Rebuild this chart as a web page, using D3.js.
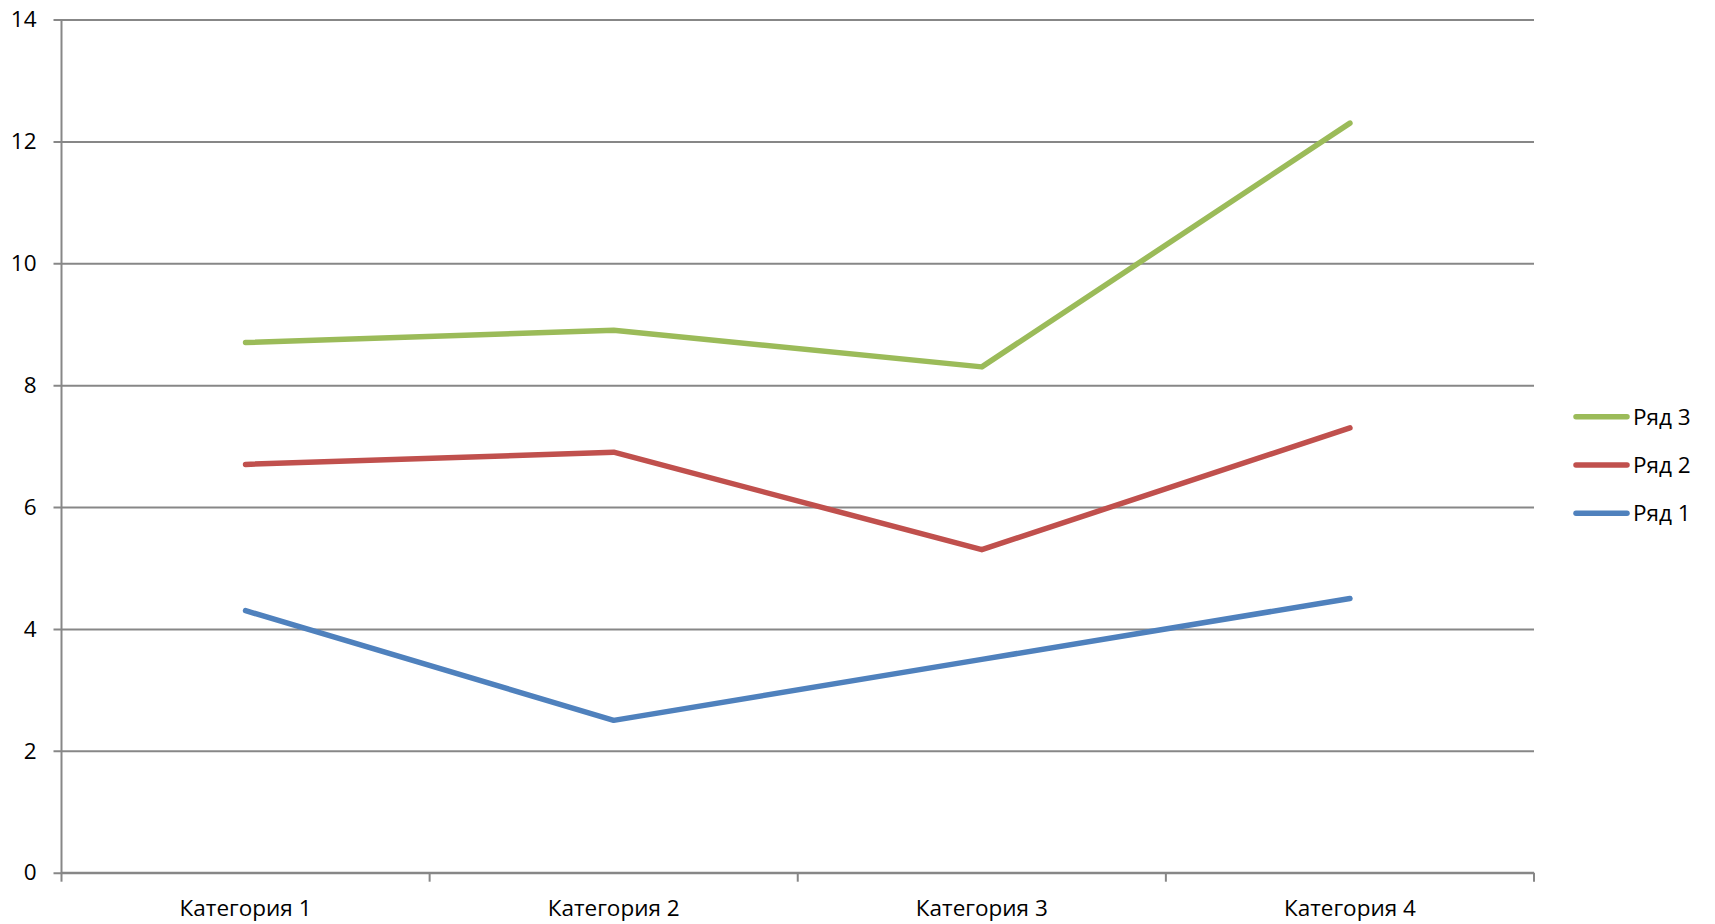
<!DOCTYPE html>
<html><head><meta charset="utf-8">
<script src="https://cdn.jsdelivr.net/npm/d3@7"></script>
<style>
html,body{margin:0;padding:0;background:#fff;}
svg{display:block;}
text{font-family:"Open Sans","Liberation Sans",sans-serif;fill:#000;}
</style></head>
<body>
<svg id="chart" width="1715" height="924"></svg>
<script>
const categories = ["Категория 1","Категория 2","Категория 3","Категория 4"];
const series1 = [4.3, 2.5, 3.5, 4.5];
const series2 = [6.7, 6.9, 5.3, 7.3];
const series3 = [8.7, 8.9, 8.3, 12.3];
const seriesNames = ["Ряд 1","Ряд 2","Ряд 3"];
const seriesColors = ["#4F81BD","#C0504D","#9BBB59"];
const yTicks = [0,2,4,6,8,10,12,14];

(function(){
const seriesData = [series1, series2, series3];
const svg = d3.select("#chart");
const pLeft = 61.5, pRight = 1534, pTop = 19.5, pBottom = 872.7;
const fs = 22.5;

const x = d3.scaleBand().domain(categories).range([pLeft, pRight]).padding(0);
const y = d3.scaleLinear().domain([0,14]).range([pBottom, pTop]);

// gridlines + y axis
const yAxis = d3.axisLeft(y).tickValues(yTicks).tickSize(-(pRight-pLeft)).tickSizeOuter(0).tickPadding(25);
const gy = svg.append("g").attr("transform",`translate(${pLeft},0)`).call(yAxis);
gy.select(".domain").remove();
gy.selectAll(".tick line").attr("stroke","#878787").attr("stroke-width",2).attr("x1",-8);
gy.selectAll(".tick text").attr("font-size",fs).attr("fill","#000");

// vertical axis line
svg.append("line").attr("x1",pLeft).attr("x2",pLeft).attr("y1",pTop).attr("y2",pBottom+1)
  .attr("stroke","#878787").attr("stroke-width",2);

// x axis
const xAxis = d3.axisBottom(x).tickSize(0).tickPadding(27);
const gx = svg.append("g").attr("transform",`translate(0,${pBottom})`).call(xAxis);
gx.select(".domain").attr("stroke","#878787").attr("stroke-width",2).attr("d",`M${pLeft},0H${pRight}`);
gx.selectAll(".tick text").attr("font-size",fs).attr("fill","#000");
const boundaries = categories.map(c => x(c)).concat([pRight]);
svg.append("g").selectAll("line").data(boundaries).join("line")
  .attr("x1",d=>d).attr("x2",d=>d).attr("y1",pBottom).attr("y2",pBottom+9)
  .attr("stroke","#878787").attr("stroke-width",2);

// lines
const line = d3.line().x((d,i)=>x(categories[i]) + x.bandwidth()/2).y(d=>y(d));
svg.append("g").selectAll("path").data(seriesData).join("path")
  .attr("d", d=>line(d)).attr("fill","none")
  .attr("stroke",(d,i)=>seriesColors[i]).attr("stroke-width",5.5)
  .attr("stroke-linecap","round").attr("stroke-linejoin","round");

// legend
const legendY = [513.3, 465, 416.7];
const lg = svg.append("g").selectAll("g").data(seriesNames).join("g")
  .attr("transform",(d,i)=>`translate(0,${legendY[i]})`);
lg.append("line").attr("x1",1576).attr("x2",1627).attr("y1",0).attr("y2",0)
  .attr("stroke",(d,i)=>seriesColors[i]).attr("stroke-width",5.5).attr("stroke-linecap","round");
lg.append("text").attr("x",1633).attr("y",0).attr("dy","0.35em").attr("font-size",fs).text(d=>d);
})();
</script>
</body></html>
